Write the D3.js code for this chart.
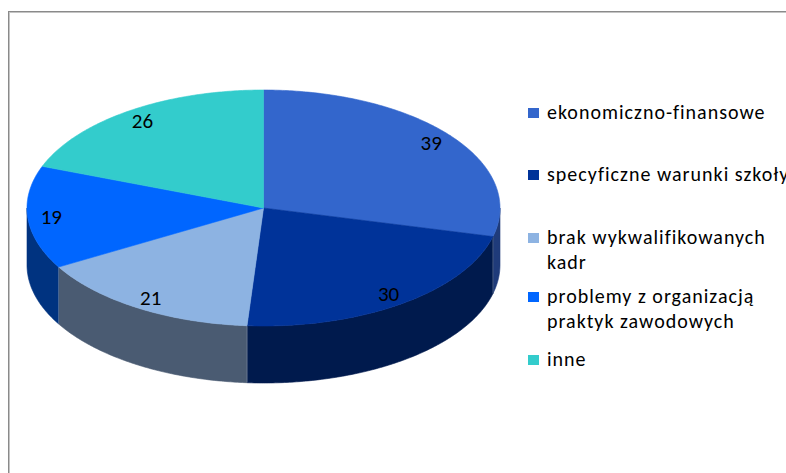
<!DOCTYPE html>
<html>
<head>
<meta charset="utf-8">
<script src="https://cdn.jsdelivr.net/npm/d3@7"></script>
<style>
  html, body { margin: 0; padding: 0; background: #fff; overflow: hidden; }
  svg { display: block; }
</style>
</head>
<body>
<script>
// Categories, values and colours of the 3D pie
const categories = [
  "ekonomiczno-finansowe",
  "specyficzne warunki szkoły",
  "brak wykwalifikowanych kadr",
  "problemy z organizacją praktyk zawodowych",
  "inne"
];
const values = [39, 30, 21, 19, 26];
const topColors  = ["#3366cc", "#003399", "#8db3e2", "#0066ff", "#33cccc"];
const sideColors = ["#1f3b7a", "#001a4d", "#4a5b72", "#003380", "#1f7a7a"];
// Legend lines (wrapped as they are drawn)
const legendLines = [
  ["ekonomiczno-finansowe"],
  ["specyficzne warunki szkoły"],
  ["brak wykwalifikowanych", "kadr"],
  ["problemy z organizacją", "praktyk zawodowych"],
  ["inne"]
];

const W = 786, H = 473;
const svg = d3.select("body").append("svg").attr("width", W).attr("height", H);

// Chart frame
svg.append("rect").attr("x", 8.5).attr("y", 11.5).attr("width", W + 20).attr("height", H + 20)
  .attr("fill", "none").attr("stroke", "#8a8a8a").attr("stroke-width", 1);
svg.append("rect").attr("x", 9.5).attr("y", 12.5).attr("width", W + 20).attr("height", H + 20)
  .attr("fill", "none").attr("stroke", "#c4c4c4").attr("stroke-width", 1);

// Pie geometry (tilted ellipse, no perspective)
const cx = 263.5, cy = 208, rx = 236.5, ry = 118, depth = 57;
const TAU = 2 * Math.PI;

const pie = d3.pie().sort(null).value(d => d).startAngle(0).endAngle(TAU);
const arcs = pie(values);

// Map an angle (clockwise from 12 o'clock) and radius factor to the ellipse
const px = (a, k = 1) => cx + rx * k * Math.sin(a);
const py = (a, k = 1) => cy - ry * k * Math.cos(a);

function arcPoints(a0, a1, dy) {
  const n = Math.max(2, Math.ceil((a1 - a0) / 0.01));
  return d3.range(n + 1).map(i => {
    const a = a0 + (a1 - a0) * i / n;
    return [px(a), py(a) + dy];
  });
}
const line = d3.line();

// Outer walls (only the front half, from 3 o'clock to 9 o'clock, is visible)
const sides = svg.append("g");
arcs.forEach((d, i) => {
  const a0 = Math.max(d.startAngle, Math.PI / 2);
  const a1 = Math.min(d.endAngle, 3 * Math.PI / 2);
  if (a1 <= a0) return;
  const topEdge = arcPoints(a0, a1, 0);
  const botEdge = arcPoints(a0, a1, depth).reverse();
  sides.append("path")
    .attr("d", line(topEdge.concat(botEdge)) + "Z")
    .attr("fill", sideColors[i])
    .attr("stroke", sideColors[i]).attr("stroke-width", 0.6);
});

// Seams where neighbouring walls meet
arcs.forEach((d, i) => {
  const a = d.startAngle;
  if (a > Math.PI / 2 && a < 3 * Math.PI / 2) {
    sides.append("line")
      .attr("x1", px(a)).attr("y1", py(a))
      .attr("x2", px(a)).attr("y2", py(a) + depth)
      .attr("stroke", "#8090a8").attr("stroke-width", 0.8).attr("opacity", 0.7);
  }
});

// Top faces
const tops = svg.append("g");
arcs.forEach((d, i) => {
  const pts = [[cx, cy]].concat(arcPoints(d.startAngle, d.endAngle, 0));
  tops.append("path")
    .attr("d", line(pts) + "Z")
    .attr("fill", topColors[i])
    .attr("stroke", topColors[i]).attr("stroke-width", 0.6);
});

// Value labels
const fontFam = "Carlito, Calibri, Lato, 'Open Sans', sans-serif";
svg.append("g").selectAll("text").data(arcs).join("text")
  .attr("x", d => px((d.startAngle + d.endAngle) / 2, 0.9))
  .attr("y", d => py((d.startAngle + d.endAngle) / 2, 0.9))
  .attr("text-anchor", "middle")
  .attr("dominant-baseline", "central")
  .attr("font-family", fontFam)
  .attr("font-size", 21)
  .attr("fill", "#000")
  .text(d => d.data);

// Legend
const legendY = [119, 181, 244, 303, 366];
const legend = svg.append("g");
legendLines.forEach((lines, i) => {
  legend.append("rect")
    .attr("x", 528).attr("y", legendY[i] - 11)
    .attr("width", 11).attr("height", 10)
    .attr("fill", topColors[i]);
  lines.forEach((t, j) => {
    legend.append("text")
      .attr("x", 547).attr("y", legendY[i] + j * 25)
      .attr("font-family", fontFam)
      .attr("font-size", 20)
      .attr("letter-spacing", 1)
      .attr("fill", "#000")
      .text(t);
  });
});
</script>
</body>
</html>
